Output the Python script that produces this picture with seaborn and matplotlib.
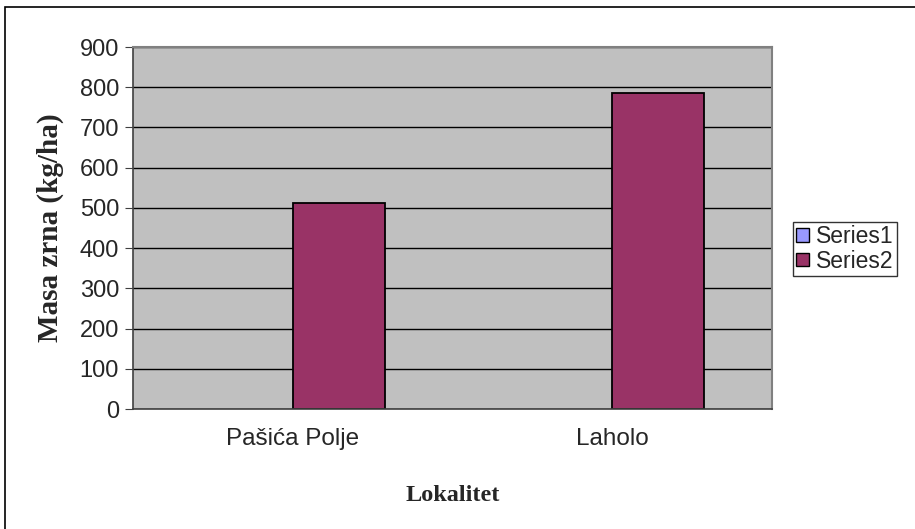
import pandas as pd
import seaborn as sns
import matplotlib.pyplot as plt
from matplotlib.patches import Rectangle

# Data
locations = ['Pašića Polje', 'Laholo']
series1 = [0, 0]
series2 = [512, 785]
series_names = ['Series1', 'Series2']
y_ticks = [0, 100, 200, 300, 400, 500, 600, 700, 800, 900]

df = pd.DataFrame({
    'Lokalitet': locations * 2,
    'Series': [series_names[0]] * 2 + [series_names[1]] * 2,
    'Value': series1 + series2,
})

sns.set_style('white')
plt.rcParams['font.family'] = ['Liberation Sans', 'DejaVu Sans']

W, H = 915, 529
fig = plt.figure(figsize=(W / 100, H / 100), dpi=100)
ax = fig.add_axes([133 / W, (H - 409) / H, (772 - 133) / W, (409 - 47) / H])
ax.set_facecolor('#c0c0c0')

sns.barplot(data=df, x='Lokalitet', y='Value', hue='Series',
            palette=['#9999ff', '#993366'], saturation=1, width=0.575,
            edgecolor='black', linewidth=1.3, ax=ax, legend=True)

# zero-height Series1 bars draw nothing in the original
for p in ax.patches:
    if p.get_height() == 0:
        p.set_visible(False)

ax.set_ylim(0, 900)
ax.set_xlim(-0.5, 1.5)
ax.set_yticks(y_ticks)
ax.yaxis.grid(True, color='black', linewidth=1)
ax.set_axisbelow(True)

# category ticks at boundaries, labels centred
ax.set_xticks([-0.5, 0.5, 1.5], minor=True)
ax.tick_params(axis='x', which='major', length=0, pad=14, labelsize=17.5)
ax.tick_params(axis='x', which='minor', length=6, color='#404040', direction='out')
ax.tick_params(axis='y', length=6, color='#404040', direction='out', left=True, labelsize=17, pad=4)

for side in ['top', 'right']:
    ax.spines[side].set_color('#808080')
    ax.spines[side].set_linewidth(1.5)
for side in ['left', 'bottom']:
    ax.spines[side].set_color('#404040')
    ax.spines[side].set_linewidth(1.2)

ax.set_xlabel('Lokalitet', family='Liberation Serif', fontweight='bold', fontsize=17.5, labelpad=25)
ax.set_ylabel('Masa zrna (kg/ha)', family='Liberation Serif', fontweight='bold', fontsize=21, labelpad=11)

leg = ax.legend(loc='upper left', bbox_to_anchor=(793 / W, (H - 222) / H),
                bbox_transform=fig.transFigure, frameon=True, fancybox=False,
                fontsize=16.5, handlelength=0.55, handleheight=0.55, handletextpad=0.3,
                labelspacing=0.05, borderpad=0.15, borderaxespad=0)
leg.get_frame().set_edgecolor('black')
leg.get_frame().set_linewidth(1)
for h in leg.legend_handles:
    h.set_edgecolor('black')
    h.set_linewidth(1)
    h.set_visible(True)

# outer chart border
fig.patches.append(Rectangle((5 / W, -0.05), 1.2, (H - 7) / H + 0.05,
                             transform=fig.transFigure, fill=False,
                             edgecolor='black', linewidth=1.2))

fig.savefig('out.png', dpi=100)
